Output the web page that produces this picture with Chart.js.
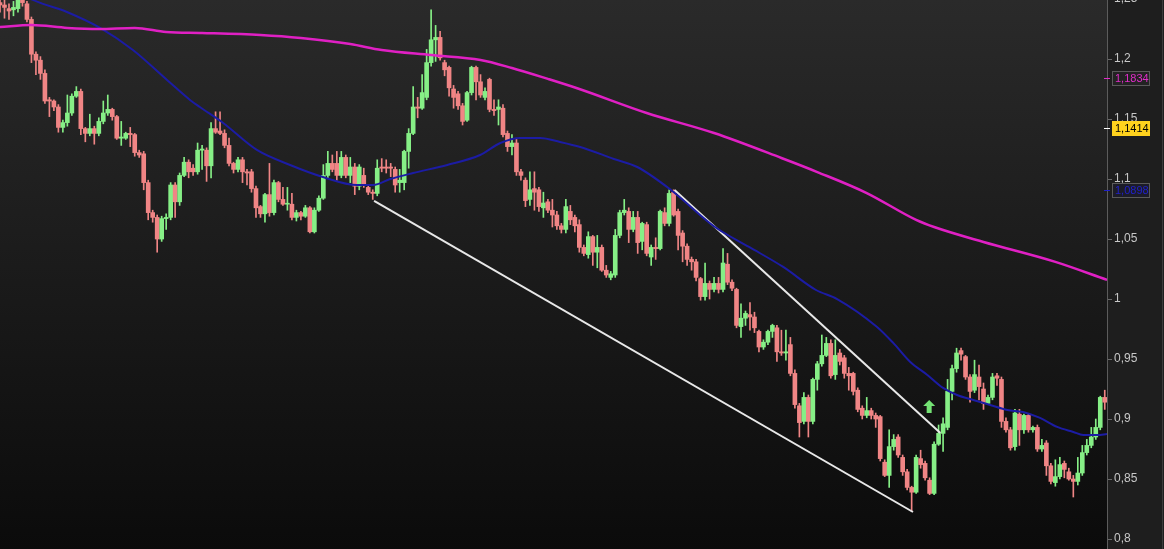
<!DOCTYPE html>
<html>
<head>
<meta charset="utf-8">
<script src="https://cdn.jsdelivr.net/npm/chart.js@4.4.1/dist/chart.umd.min.js"></script>
<style>
  html, body { margin: 0; padding: 0; background: #000; }
  #wrap { width: 1164px; height: 549px; }
</style>
</head>
<body>
<div id="wrap"><canvas id="grafico" width="1164" height="549"></canvas></div>
<script>
// velas (OHLC), una por periodo
const open = [
  1.247,1.245,1.242,1.241,1.242,1.251,1.246,1.233,1.204,1.199,
  1.188,1.166,1.165,1.160,1.143,1.147,1.155,1.169,1.173,1.142,
  1.138,1.142,1.138,1.148,1.155,1.158,1.152,1.134,1.134,1.138,
  1.137,1.122,1.121,1.097,1.072,1.068,1.050,1.067,1.068,1.095,
  1.081,1.103,1.114,1.109,1.106,1.124,1.124,1.111,1.142,1.140,
  1.138,1.128,1.113,1.108,1.116,1.106,1.106,1.092,1.077,1.071,
  1.087,1.072,1.097,1.083,1.079,1.079,1.068,1.072,1.069,1.076,
  1.056,1.074,1.084,1.103,1.113,1.113,1.103,1.118,1.103,1.110,
  1.094,1.103,1.093,1.089,1.088,1.110,1.110,1.110,1.108,1.097,
  1.097,1.123,1.138,1.160,1.159,1.168,1.197,1.216,1.218,1.197,
  1.193,1.175,1.171,1.161,1.149,1.172,1.193,1.181,1.168,1.183,
  1.158,1.158,1.159,1.138,1.127,1.130,1.106,1.099,1.083,1.092,
  1.091,1.076,1.081,1.074,1.070,1.061,1.058,1.073,1.068,1.062,
  1.043,1.037,1.052,1.039,1.043,1.024,1.018,1.020,1.053,1.072,
  1.073,1.058,1.068,1.048,1.062,1.035,1.043,1.042,1.072,1.063,
  1.089,1.073,1.055,1.044,1.033,1.031,1.017,1.002,1.013,1.008,
  1.013,1.008,1.029,1.014,1.008,0.977,0.984,0.987,0.985,0.973,
  0.960,0.964,0.973,0.976,0.956,0.955,0.962,0.938,0.911,0.898,
  0.918,0.898,0.933,0.946,0.953,0.963,0.937,0.955,0.951,0.938,
  0.938,0.924,0.909,0.903,0.907,0.903,0.902,0.864,0.853,0.877,
  0.885,0.868,0.856,0.843,0.839,0.867,0.863,0.849,0.838,0.879,
  0.888,0.893,0.923,0.942,0.957,0.952,0.935,0.924,0.935,0.925,
  0.913,0.918,0.936,0.933,0.898,0.891,0.877,0.904,0.891,0.903,
  0.891,0.893,0.875,0.880,0.861,0.847,0.852,0.863,0.856,0.850,
  0.848,0.855,0.872,0.878,0.885,0.893,0.918
];
const high = [
  1.249,1.249,1.246,1.248,1.254,1.254,1.248,1.235,1.206,1.202,
  1.191,1.168,1.166,1.162,1.149,1.170,1.171,1.177,1.175,1.143,
  1.154,1.144,1.151,1.165,1.170,1.159,1.153,1.148,1.139,1.143,
  1.138,1.124,1.123,1.099,1.074,1.070,1.069,1.071,1.097,1.097,
  1.105,1.118,1.116,1.112,1.130,1.128,1.126,1.147,1.156,1.156,
  1.141,1.134,1.114,1.118,1.118,1.108,1.108,1.094,1.078,1.088,
  1.113,1.099,1.098,1.093,1.093,1.088,1.074,1.073,1.078,1.077,
  1.076,1.086,1.112,1.123,1.120,1.123,1.123,1.120,1.118,1.113,
  1.112,1.109,1.095,1.091,1.116,1.117,1.116,1.113,1.110,1.108,
  1.124,1.142,1.177,1.168,1.187,1.208,1.241,1.228,1.223,1.199,
  1.194,1.178,1.173,1.163,1.173,1.194,1.194,1.187,1.176,1.184,
  1.166,1.166,1.162,1.140,1.137,1.133,1.108,1.101,1.106,1.106,
  1.093,1.089,1.083,1.083,1.073,1.063,1.083,1.078,1.070,1.066,
  1.045,1.056,1.053,1.053,1.045,1.028,1.023,1.058,1.074,1.083,
  1.076,1.073,1.073,1.064,1.064,1.045,1.051,1.074,1.076,1.091,
  1.091,1.075,1.057,1.046,1.035,1.033,1.018,1.030,1.015,1.018,
  1.018,1.042,1.038,1.016,1.009,0.996,0.990,0.997,0.989,0.974,
  0.966,0.974,0.979,0.978,0.974,0.974,0.968,0.941,0.913,0.922,
  0.920,0.934,0.948,0.970,0.968,0.966,0.966,0.958,0.953,0.943,
  0.939,0.926,0.911,0.918,0.909,0.905,0.903,0.866,0.891,0.887,
  0.887,0.870,0.858,0.844,0.870,0.874,0.865,0.851,0.881,0.895,
  0.901,0.933,0.945,0.959,0.959,0.953,0.937,0.949,0.945,0.930,
  0.920,0.938,0.938,0.935,0.901,0.893,0.908,0.908,0.904,0.904,
  0.894,0.895,0.883,0.882,0.863,0.866,0.868,0.865,0.859,0.853,
  0.868,0.878,0.883,0.893,0.900,0.919,0.924
];
const low = [
  1.239,1.234,1.233,1.236,1.239,1.244,1.231,1.197,1.187,1.183,
  1.163,1.152,1.157,1.139,1.139,1.144,1.153,1.168,1.137,1.131,
  1.136,1.129,1.136,1.146,1.153,1.149,1.133,1.128,1.133,1.127,
  1.119,1.118,1.091,1.066,1.064,1.039,1.048,1.058,1.066,1.068,
  1.078,1.102,1.101,1.103,1.104,1.108,1.098,1.101,1.138,1.137,
  1.126,1.111,1.105,1.106,1.097,1.095,1.089,1.068,1.068,1.064,
  1.069,1.070,1.081,1.078,1.074,1.066,1.065,1.066,1.068,1.055,
  1.055,1.073,1.083,1.101,1.106,1.099,1.101,1.101,1.097,1.087,
  1.091,1.093,1.087,1.083,1.086,1.106,1.105,1.102,1.089,1.089,
  1.091,1.109,1.137,1.151,1.158,1.166,1.194,1.198,1.199,1.186,
  1.169,1.159,1.158,1.145,1.148,1.170,1.166,1.168,1.166,1.156,
  1.153,1.145,1.135,1.123,1.120,1.103,1.099,1.077,1.078,1.074,
  1.073,1.068,1.072,1.060,1.058,1.055,1.055,1.062,1.056,1.039,
  1.036,1.034,1.028,1.026,1.023,1.018,1.016,1.018,1.051,1.070,
  1.047,1.056,1.038,1.041,1.036,1.028,1.033,1.041,1.061,1.061,
  1.069,1.041,1.031,1.028,1.024,1.015,0.999,0.999,1.000,1.006,
  1.005,1.006,1.012,1.007,0.976,0.968,0.978,0.974,0.972,0.956,
  0.958,0.962,0.968,0.948,0.953,0.949,0.936,0.909,0.885,0.896,
  0.885,0.896,0.924,0.944,0.952,0.934,0.933,0.945,0.934,0.924,
  0.920,0.906,0.900,0.901,0.900,0.893,0.865,0.852,0.843,0.874,
  0.868,0.853,0.841,0.823,0.838,0.859,0.849,0.837,0.837,0.878,
  0.873,0.891,0.916,0.939,0.949,0.933,0.914,0.922,0.916,0.908,
  0.912,0.916,0.928,0.893,0.889,0.874,0.874,0.878,0.888,0.889,
  0.889,0.873,0.873,0.853,0.846,0.844,0.850,0.851,0.849,0.835,
  0.845,0.853,0.870,0.876,0.883,0.891,0.908
];
const close = [
  1.245,1.243,1.240,1.243,1.251,1.247,1.233,1.204,1.199,1.188,
  1.165,1.165,1.160,1.143,1.147,1.155,1.169,1.173,1.142,1.138,
  1.142,1.138,1.148,1.155,1.158,1.152,1.134,1.135,1.138,1.137,
  1.122,1.120,1.097,1.072,1.068,1.050,1.067,1.068,1.095,1.081,
  1.103,1.114,1.106,1.106,1.124,1.125,1.111,1.142,1.139,1.138,
  1.128,1.113,1.108,1.116,1.106,1.105,1.092,1.076,1.071,1.087,
  1.072,1.097,1.083,1.079,1.0795,1.068,1.072,1.069,1.076,1.056,
  1.074,1.084,1.103,1.113,1.108,1.103,1.118,1.103,1.110,1.094,
  1.110,1.095,1.089,1.088,1.109,1.109,1.109,1.109,1.095,1.099,
  1.123,1.138,1.160,1.159,1.172,1.197,1.216,1.218,1.201,1.191,
  1.176,1.168,1.161,1.148,1.172,1.193,1.181,1.170,1.173,1.158,
  1.157,1.160,1.137,1.127,1.130,1.106,1.103,1.082,1.091,1.089,
  1.077,1.080,1.074,1.070,1.061,1.058,1.077,1.066,1.061,1.043,
  1.038,1.052,1.039,1.043,1.024,1.020,1.021,1.053,1.072,1.074,
  1.058,1.068,1.047,1.063,1.038,1.043,1.042,1.073,1.063,1.088,
  1.070,1.053,1.044,1.033,1.031,1.018,1.002,1.013,1.008,1.013,
  1.008,1.030,1.014,1.009,0.978,0.984,0.988,0.985,0.976,0.960,
  0.964,0.973,0.978,0.956,0.955,0.956,0.938,0.912,0.897,0.918,
  0.898,0.933,0.946,0.953,0.963,0.936,0.953,0.948,0.938,0.936,
  0.923,0.908,0.903,0.907,0.903,0.900,0.867,0.853,0.877,0.883,
  0.870,0.856,0.843,0.839,0.868,0.862,0.851,0.838,0.879,0.888,
  0.896,0.923,0.942,0.955,0.954,0.935,0.923,0.937,0.927,0.913,
  0.918,0.935,0.934,0.898,0.891,0.876,0.905,0.891,0.903,0.891,
  0.893,0.875,0.878,0.861,0.848,0.852,0.862,0.858,0.850,0.848,
  0.855,0.872,0.878,0.885,0.893,0.918,0.914
];

// media lenta (magenta) y media rapida (azul): indice de vela, valor
const lentaIdx = [0, 7, 15, 22, 30, 37, 45, 58, 67, 78, 85, 96, 107, 114, 122, 129, 144, 159, 174, 182, 193, 204, 208, 219, 235, 246.5];
const lentaVal = [1.2267, 1.2283, 1.2259, 1.2250, 1.2259, 1.2225, 1.2217, 1.2200, 1.2175, 1.2125, 1.2075, 1.2033, 1.1992, 1.1925, 1.1834, 1.1750, 1.1550, 1.1383, 1.1175, 1.1058, 1.0883, 1.0659, 1.0600, 1.0475, 1.0309, 1.0159];
const rapidaIdx = [0, 7.35, 14.9, 22.3, 29.6, 37.2, 42.3, 44.5, 49.7, 57.2, 64.6, 71.9, 79.5, 83.1, 86.9, 92.0, 99.6, 106.9, 111.4, 115.8, 120.3, 124.7, 129.2, 136.7, 141.9, 149.4, 159.2, 166.8, 174.4, 181.7, 186.4, 195.3, 198.9, 202.7, 206.5, 210.0, 213.1, 216.7, 220.5, 224.3, 227.8, 231.6, 235.4, 239.0, 241.2, 244.3, 246.5];
const rapidaVal = [1.2659, 1.2492, 1.2392, 1.2259, 1.2075, 1.1825, 1.1659, 1.1600, 1.1467, 1.1242, 1.1117, 1.1017, 1.0950, 1.0950, 1.1000, 1.1050, 1.1117, 1.1200, 1.1300, 1.1342, 1.1342, 1.1309, 1.1267, 1.1167, 1.1100, 1.0909, 1.0600, 1.0434, 1.0267, 1.0075, 1.0000, 0.9767, 0.9634, 0.9475, 0.9367, 0.9259, 0.9200, 0.9159, 0.9117, 0.9075, 0.9059, 0.9009, 0.8934, 0.8892, 0.8867, 0.8867, 0.8875];

// lineas de tendencia (canal bajista)
const techoIdx = [150.2, 209.4];
const techoVal = [1.0909, 0.8884];
const sueloIdx = [83.3, 203.3];
const sueloVal = [1.0817, 0.8225];

// eje de precios
const yTicks = [0.8, 0.85, 0.9, 0.95, 1, 1.05, 1.1, 1.15, 1.2, 1.25];
const yTickLabels = ['0,8', '0,85', '0,9', '0,95', '1', '1,05', '1,1', '1,15', '1,2', '1,25'];

// etiquetas de precio en el eje
const tagValues = [1.1834, 1.1414, 1.0898];
const tagTexts = ['1,1834', '1,1414', '1,0898'];

// flecha de compra
const flechaIdx = 206.9;
const flechaVal = 0.9159;

const VERDE = '#86ef86';
const ROJO = '#f08585';

const colores = close.map((c, i) => c >= open[i] ? VERDE : ROJO);
const cuerpos = open.map((o, i) => ({ x: i, y: [o, close[i]] }));
const mechas = low.map((l, i) => ({ x: i, y: [l, high[i]] }));
const lenta = lentaIdx.map((x, i) => ({ x: x, y: lentaVal[i] }));
const rapida = rapidaIdx.map((x, i) => ({ x: x, y: rapidaVal[i] }));
const techo = techoIdx.map((x, i) => ({ x: x, y: techoVal[i] }));
const suelo = sueloIdx.map((x, i) => ({ x: x, y: sueloVal[i] }));

const fondo = {
  id: 'fondo',
  beforeDraw(chart) {
    const ctx = chart.ctx;
    const a = chart.chartArea;
    ctx.save();
    ctx.fillStyle = '#1e1e1e';
    ctx.fillRect(0, 0, chart.width, chart.height);
    const g = ctx.createLinearGradient(0, a.top, 0, a.bottom);
    g.addColorStop(0, '#2a2a2a');
    g.addColorStop(1, '#0b0b0b');
    ctx.fillStyle = g;
    ctx.fillRect(a.left, a.top, a.right - a.left, a.bottom - a.top);
    ctx.fillStyle = '#3c3c3c';
    ctx.fillRect(chart.width - 2, 0, 1, chart.height);
    ctx.restore();
  }
};

const extras = {
  id: 'extras',
  afterDatasetsDraw(chart) {
    const ctx = chart.ctx;
    const xs = chart.scales.x, ys = chart.scales.y;
    const px = xs.getPixelForValue(flechaIdx);
    const py = ys.getPixelForValue(flechaVal);
    ctx.save();
    ctx.fillStyle = '#74e274';
    ctx.beginPath();
    ctx.moveTo(px, py);
    ctx.lineTo(px + 6, py + 6);
    ctx.lineTo(px + 2.5, py + 6);
    ctx.lineTo(px + 2.5, py + 13);
    ctx.lineTo(px - 2.5, py + 13);
    ctx.lineTo(px - 2.5, py + 6);
    ctx.lineTo(px - 6, py + 6);
    ctx.closePath();
    ctx.fill();
    ctx.restore();
  },
  afterDraw(chart) {
    const ctx = chart.ctx;
    const ys = chart.scales.y;
    const x0 = chart.chartArea.right;
    const estilos = [
      { bg: '#232323', fg: '#e02cc8', borde: '#5a5a5a', tic: '#e02cc8' },
      { bg: '#ffd21e', fg: '#000000', borde: '#ffd21e', tic: '#ffffff' },
      { bg: '#1c1c28', fg: '#2020c8', borde: '#5a5a5a', tic: '#2020c8' }
    ];
    ctx.save();
    ctx.font = '11px "Liberation Sans", Arial, sans-serif';
    ctx.textBaseline = 'middle';
    tagValues.forEach((v, i) => {
      const y = Math.round(ys.getPixelForValue(v)) - 1;
      const e = estilos[i];
      ctx.fillStyle = e.tic;
      ctx.fillRect(x0 - 3, y, 6, 1);
      ctx.fillStyle = e.bg;
      ctx.fillRect(x0 + 5, y - 7, 38, 15);
      ctx.strokeStyle = e.borde;
      ctx.lineWidth = 1;
      ctx.strokeRect(x0 + 5.5, y - 6.5, 37, 14);
      ctx.fillStyle = e.fg;
      ctx.fillText(tagTexts[i], x0 + 8, y + 1);
    });
    ctx.restore();
  }
};

const config = {
  type: 'bar',
  data: {
    datasets: [
      { type: 'line', data: lenta, borderColor: '#e020c4', borderWidth: 2.5, pointRadius: 0, tension: 0.4, cubicInterpolationMode: 'monotone', order: 0 },
      { type: 'line', data: rapida, borderColor: '#1c1ca4', borderWidth: 2, pointRadius: 0, tension: 0.4, cubicInterpolationMode: 'monotone', order: 0 },
      { type: 'line', data: techo, borderColor: '#e8e8e8', borderWidth: 2, pointRadius: 0, tension: 0, order: 0 },
      { type: 'line', data: suelo, borderColor: '#e8e8e8', borderWidth: 2, pointRadius: 0, tension: 0, order: 0 },
      { data: cuerpos, backgroundColor: colores, barThickness: 4, minBarLength: 1, grouped: false, order: 1 },
      { data: mechas, backgroundColor: colores, barThickness: 1, grouped: false, order: 2 }
    ]
  },
  options: {
    responsive: false,
    animation: false,
    devicePixelRatio: 1,
    layout: { padding: 0 },
    plugins: { legend: { display: false }, tooltip: { enabled: false } },
    scales: {
      x: {
        type: 'linear',
        display: false,
        offset: false,
        min: 0,
        max: 246.5
      },
      y: {
        position: 'right',
        min: 0.79167,
        max: 1.24917,
        afterBuildTicks(scale) {
          scale.ticks = yTicks.map(v => ({ value: v }));
        },
        afterFit(scale) {
          scale.width = 57;
          scale.paddingTop = 0;
          scale.paddingBottom = 0;
        },
        ticks: {
          color: '#c8c8c8',
          font: { family: '"Liberation Sans", Arial, sans-serif', size: 12 },
          padding: 2,
          autoSkip: false,
          callback: (v) => {
            const k = yTicks.findIndex(t => Math.abs(t - v) < 1e-6);
            return k >= 0 ? yTickLabels[k] : '';
          }
        },
        grid: { drawOnChartArea: false, drawTicks: true, tickLength: 5, color: '#6a6a6a' },
        border: { color: '#5c5c5c', width: 1 }
      }
    }
  },
  plugins: [fondo, extras]
};

const myChart = new Chart(document.getElementById('grafico'), config);
</script>
</body>
</html>
